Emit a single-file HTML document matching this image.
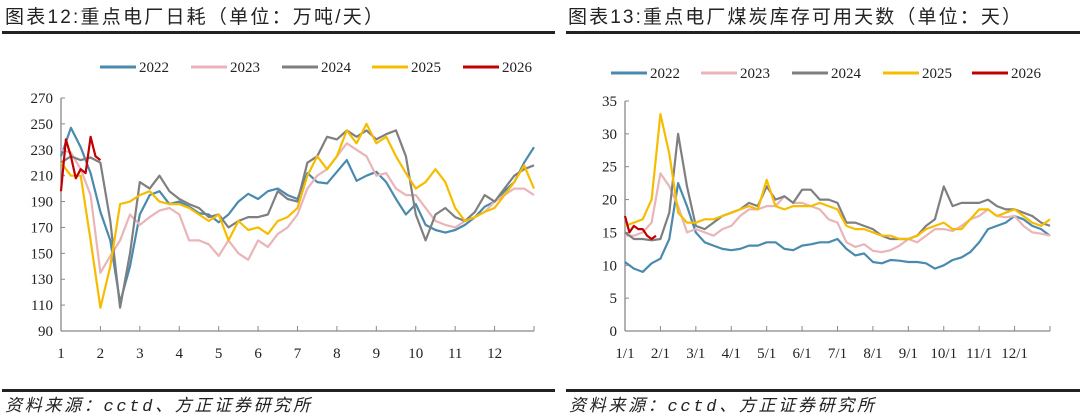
<!DOCTYPE html>
<html><head><meta charset="utf-8">
<style>
html,body{margin:0;padding:0;background:#fff;width:1080px;height:418px;overflow:hidden}
svg{display:block}
.t{font-family:"Liberation Sans","Noto Sans CJK SC",sans-serif;font-size:19px;fill:#222}
.f{font-family:"Liberation Mono","Noto Sans CJK SC",monospace;font-size:17px;fill:#222;font-style:italic}
.a{font-family:"Liberation Serif",serif;font-size:15px;fill:#222}
</style></head><body>
<svg id="s" width="1080" height="418">
<text class="t" x="5" y="23" textLength="378" lengthAdjust="spacing">图表12:重点电厂日耗（单位：万吨/天）</text>
<text class="t" x="568" y="23" textLength="453" lengthAdjust="spacing">图表13:重点电厂煤炭库存可用天数（单位：天）</text>
<rect x="2" y="31" width="553" height="3" fill="#222"/>
<rect x="566" y="31" width="514" height="3" fill="#222"/>
<rect x="2" y="389" width="553" height="3" fill="#222"/>
<rect x="566" y="389" width="514" height="3" fill="#222"/>
<text class="f" x="5" y="411" textLength="305" lengthAdjust="spacing">资料来源：cctd、方正证券研究所</text>
<text class="f" x="569" y="411" textLength="305" lengthAdjust="spacing">资料来源：cctd、方正证券研究所</text>
</svg>
<script>
const leftYTicks=[90,110,130,150,170,190,210,230,250,270];
const leftXLabels=["1","2","3","4","5","6","7","8","9","10","11","12"];
const rightYTicks=[0,5,10,15,20,25,30,35];
const rightXLabels=["1/1","2/1","3/1","4/1","5/1","6/1","7/1","8/1","9/1","10/1","11/1","12/1"];
const years=["2022","2023","2024","2025","2026"];
const colors=["#4a8aae","#e9b5b8","#7f7f7f","#f6bd00","#c00000"];
const c2022=[225,247,232,212,182,160,112,140,180,195,198,188,190,186,181,180,174,180,190,196,192,198,200,195,192,212,205,204,213,222,206,210,213,205,192,180,188,172,168,166,168,172,178,186,190,198,205,220,232];
const c2023=[230,228,215,195,135,148,160,180,172,178,183,185,180,160,160,157,148,160,150,145,160,155,165,170,180,200,210,215,225,235,230,225,210,212,200,195,195,185,175,172,170,175,178,182,190,195,200,200,195];
const c2024=[220,225,222,224,220,175,108,150,205,200,210,198,192,188,185,178,180,170,175,178,178,180,198,192,190,220,225,240,238,245,240,245,238,242,245,225,180,160,180,185,178,175,182,195,190,200,210,215,218];
const c2025=[220,210,210,160,108,140,188,190,195,198,190,188,188,185,180,175,180,160,175,168,170,165,175,178,185,210,225,215,225,245,235,250,235,240,225,212,200,205,215,205,185,175,178,182,185,195,205,218,200];
const c2026=[198,238,225,208,215,212,240,225,222];
const d2022=[10.5,9.5,9,10.3,11,14,22.5,19,15,13.5,13,12.5,12.3,12.5,13,13,13.5,13.5,12.5,12.3,13,13.2,13.5,13.5,14,12.5,11.5,11.8,10.5,10.3,10.8,10.7,10.5,10.5,10.3,9.5,10,10.8,11.2,12,13.5,15.5,16,16.5,17.5,17,16,15.5,14.5];
const d2023=[14.5,14.5,15,16.5,24,22,19,15,15.5,15,14.5,15.5,16,17.5,18.5,18.5,19,19,20.5,19.5,19.5,19,18.5,17,16.5,13.5,12.8,13.2,12.2,12,12.3,13,14,13.5,14.5,15.5,15.5,15.2,16,17,17.5,18.5,17.5,17.3,17.5,16,15,14.8,14.5];
const d2024=[15,14,14,13.8,14,18,30,22,16,15.5,16.5,17.5,18,18.5,19.5,19,22,20,20.5,19.5,21.5,21.5,20,20,19.5,16.5,16.5,16,15.5,14.5,14,14,14,14.5,16,17,22,19,19.5,19.5,19.5,20,19,18.5,18.5,18,17.5,16.5,16];
const d2025=[16,16.5,17,20,33,27,18,16.5,16.5,17,17,17.5,18,18.5,19,18.5,23,19,18.5,19,19,19,19.5,19,18.5,16,15.5,15.5,15,14.5,14.5,14,14,14.5,15.5,16,16.5,15.5,15.5,17,18.5,18.5,17.5,18,18.5,17.5,16.5,16,17];
const d2026=[17.5,15,16,15.5,15.5,14.5,14,14.5];

const S=document.getElementById('s');
const NS='http://www.w3.org/2000/svg';
function mk(tag,attrs){const e=document.createElementNS(NS,tag);for(const k in attrs)e.setAttribute(k,attrs[k]);S.appendChild(e);return e;}

function panel(cfg){
  const xs=m=>cfg.x0+(m-1)/12*(cfg.x1-cfg.x0);
  const ys=v=>cfg.y0-(v-cfg.ymin)/(cfg.ymax-cfg.ymin)*(cfg.y0-cfg.y1);
  let e=mk('line',{x1:cfg.x0,y1:cfg.y1,x2:cfg.x0,y2:cfg.y0,stroke:'#888','stroke-width':1.3});
  
  
  e=mk('line',{x1:cfg.x0,y1:cfg.y0,x2:cfg.x1,y2:cfg.y0,stroke:'#888','stroke-width':1.3});
  
  
  cfg.yt.forEach(v=>{
    const y=ys(v);
    let t=mk('line',{x1:cfg.x0,y1:y,x2:cfg.x0+4,y2:y,stroke:'#888'});
    
    
    const l=mk('text',{x:cfg.x0-8,y:y+5,'text-anchor':'end',class:'a'});
    l.textContent=v;
    
    
  });
  for(let i=0;i<=12;i++){
    const x=xs(i+1);
    let t=mk('line',{x1:x,y1:cfg.y0,x2:x,y2:cfg.y0-5,stroke:'#888'});
    
    
  }
  cfg.xl.forEach((s,i)=>{
    const l=mk('text',{x:xs(i+1),y:cfg.y0+27,'text-anchor':'middle',class:'a'});
    l.textContent=s;
    
    
  });
  cfg.series.forEach((arr,k)=>{
    const step=k===4?0.125:0.25;
    const pts=arr.map((v,i)=>xs(1+i*step).toFixed(1)+','+ys(v).toFixed(1)).join(' ');
    const pl=mk('polyline',{points:pts,fill:'none',stroke:colors[k],'stroke-width':2.2,'stroke-linejoin':'round'});
    
    
  });
  years.forEach((yr,k)=>{
    const lx=cfg.lx[k];
    const ln=mk('line',{x1:lx,y1:cfg.ly,x2:lx+36,y2:cfg.ly,stroke:colors[k],'stroke-width':3});
    
    
    const tx=mk('text',{x:lx+39,y:cfg.ly+5,class:'a'});
    tx.textContent=yr;
    
    
  });
}
panel({p:'left',x0:61,x1:534,y0:331,y1:98,ymin:90,ymax:270,yt:leftYTicks,xl:leftXLabels,
  series:[c2022,c2023,c2024,c2025,c2026],lx:[100,191,282,372,463],ly:67});
panel({p:'right',x0:625,x1:1050,y0:331,y1:101,ymin:0,ymax:35,yt:rightYTicks,xl:rightXLabels,
  series:[d2022,d2023,d2024,d2025,d2026],lx:[611,701,792,883,972],ly:73});
</script>
</body></html>
